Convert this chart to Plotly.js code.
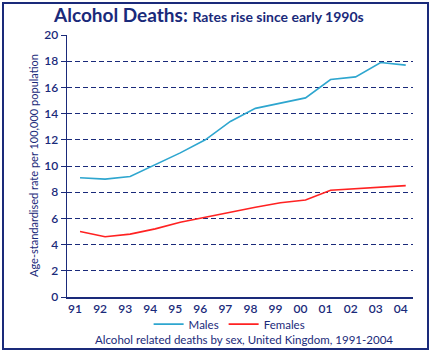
<!DOCTYPE html>
<html><head><meta charset="utf-8">
<script src="https://cdn.plot.ly/plotly-3.0.1.min.js"></script>
<style>
html,body{margin:0;padding:0;background:#fff;}
#wrap{position:relative;width:432px;height:354px;}
#chart{width:432px;height:354px;}
#frame{position:absolute;left:2px;top:2px;width:423px;height:344px;border:2px solid #1a2a7a;pointer-events:none;}
</style></head>
<body>
<div id="wrap"><div id="chart"></div><div id="frame"></div></div>
<script>
const years = [1991,1992,1993,1994,1995,1996,1997,1998,1999,2000,2001,2002,2003,2004];
const tickLabels = ['91','92','93','94','95','96','97','98','99','00','01','02','03','04'];
const males = [9.1,9.0,9.2,10.1,11.0,12.0,13.4,14.4,14.8,15.2,16.6,16.8,17.9,17.7];
const females = [5.0,4.6,4.8,5.2,5.7,6.1,6.5,6.85,7.2,7.4,8.15,8.25,8.4,8.5];
const yTicks = [0,2,4,6,8,10,12,14,16,18,20];

const navy = '#1a2a7a';
const font = 'Lato, "Open Sans", sans-serif';

const traces = [
  {x: years, y: males, name: 'Males', type: 'scatter', mode: 'lines',
   line: {color: '#2ea6cf', width: 1.6}},
  {x: years, y: females, name: 'Females', type: 'scatter', mode: 'lines',
   line: {color: '#ff2222', width: 1.6}}
];

const layout = {
  width: 432, height: 354,
  margin: {l: 67, r: 19, t: 35, b: 57, autoexpand: false},
  paper_bgcolor: '#fff', plot_bgcolor: '#fff',
  font: {family: font, color: navy, size: 12},
  showlegend: true,
  title: {
    text: '<b>Alcohol Deaths: <span style="font-size:14px">Rates rise since early 1990s</span></b>',
    font: {family: font, size: 19, color: navy},
    x: 54/432, xanchor: 'left', xref: 'container',
    y: 1 - 15/354, yanchor: 'middle', yref: 'container'
  },
  xaxis: {
    range: [1990.48, 2004.29],
    tickmode: 'array', tickvals: years, ticktext: tickLabels,
    showgrid: false, zeroline: false,
    showline: true, linecolor: navy, linewidth: 1.5,
    ticks: '', ticklabelshift: -5,
    tickfont: {family: font, size: 12, color: navy, weight: 600}
  },
  yaxis: {
    range: [0, 20],
    tickmode: 'array', tickvals: yTicks,
    showgrid: true, gridcolor: navy, gridwidth: 1, griddash: '5px,3px',
    zeroline: false,
    showline: true, linecolor: navy, linewidth: 1.5,
    ticks: 'outside', ticklen: 5, tickcolor: navy, tickwidth: 1,
    ticklabelstandoff: 0,
    tickfont: {family: font, size: 12, color: navy, weight: 600}
  },
  legend: {
    orientation: 'h', x: 0.47, xanchor: 'center', y: -0.048, yanchor: 'top',
    font: {family: font, size: 11.5, color: navy},
    itemwidth: 30, tracegroupgap: 0, bgcolor: 'rgba(0,0,0,0)'
  },
  annotations: [
    {text: 'Age-standardised rate per 100,000 population', textangle: -90,
     xref: 'paper', yref: 'paper', x: (33 - 67) / 346, y: 0.5,
     xanchor: 'center', yanchor: 'middle', showarrow: false,
     font: {family: font, size: 11, color: navy}},
    {text: 'Alcohol related deaths by sex, United Kingdom, 1991-2004',
     xref: 'paper', yref: 'paper', x: 0.513, y: -0.13, xanchor: 'center', yanchor: 'top',
     showarrow: false, font: {family: font, size: 11.5, color: navy}}
  ]
};

Plotly.newPlot('chart', traces, layout, {displayModeBar: false, staticPlot: true});
</script>
</body></html>
